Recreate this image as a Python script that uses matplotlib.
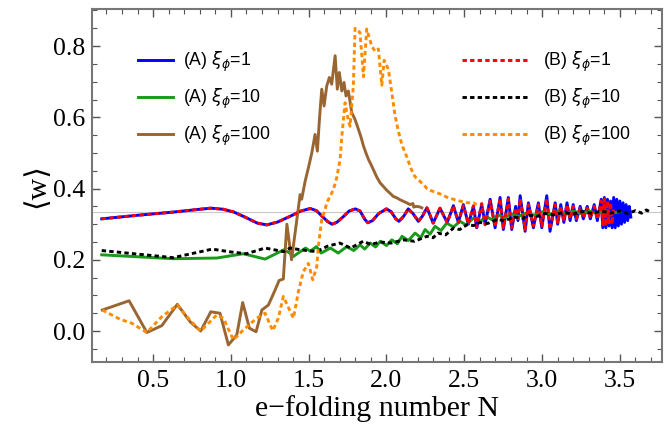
import matplotlib
matplotlib.use("Agg")
import matplotlib.pyplot as plt
from matplotlib.lines import Line2D
from matplotlib.ticker import MultipleLocator, FormatStrFormatter

# ---------------- data ----------------
a1_N = [0.17, 0.40, 0.63, 0.78, 0.87, 0.95, 1.02, 1.10, 1.17, 1.23, 1.30, 1.38, 1.45, 1.51, 1.55,
        1.58, 1.62, 1.65, 1.68, 1.72, 1.76, 1.80, 1.83, 1.86, 1.88, 1.91, 1.95, 2.00, 2.03, 2.06,
        2.08, 2.11, 2.14, 2.17, 2.205, 2.23, 2.26, 2.28, 2.30, 2.32, 2.344, 2.37, 2.39, 2.41,
        2.43, 2.462, 2.494, 2.526, 2.559, 2.58, 2.612, 2.634,
        2.666, 2.698, 2.73, 2.751, 2.783, 2.805, 2.83, 2.845, 2.859, 2.891, 2.912, 2.944, 2.976,
        2.998, 3.03, 3.051, 3.084, 3.10, 3.12, 3.14, 3.16, 3.18, 3.20, 3.22, 3.245, 3.265, 3.29,
        3.31, 3.335, 3.355, 3.38, 3.39, 3.40, 3.41, 3.42, 3.43, 3.44, 3.45, 3.46, 3.47, 3.48, 3.49,
        3.50, 3.51, 3.52, 3.53, 3.54, 3.55, 3.56, 3.57]
a1_w = [0.315, 0.325, 0.334, 0.341, 0.345, 0.342, 0.334, 0.318, 0.303, 0.298, 0.306, 0.322, 0.337,
        0.344, 0.338, 0.325, 0.308, 0.300, 0.305, 0.320, 0.337, 0.343, 0.337, 0.314, 0.304, 0.310,
        0.330, 0.343, 0.335, 0.315, 0.308, 0.322, 0.343, 0.330, 0.308, 0.322, 0.346, 0.325, 0.303,
        0.322, 0.345, 0.322, 0.305, 0.328,
        0.352, 0.305, 0.355, 0.300, 0.350, 0.290, 0.355, 0.300,
        0.370, 0.290, 0.375, 0.285, 0.375, 0.285, 0.350, 0.310, 0.380, 0.280,
        0.360, 0.290, 0.360, 0.290, 0.380, 0.280, 0.360, 0.300, 0.355, 0.305, 0.360, 0.310, 0.355,
        0.310, 0.350, 0.315, 0.350, 0.315, 0.355, 0.310, 0.370, 0.290, 0.375, 0.290, 0.370, 0.295,
        0.365, 0.290, 0.375, 0.290, 0.370, 0.295, 0.365, 0.300, 0.360, 0.305, 0.355, 0.310, 0.350,
        0.320]

b1_N = a1_N[:46] + [2.494, 2.526, 2.559, 2.58, 2.612, 2.634,
        2.666, 2.698, 2.73, 2.751, 2.783, 2.805, 2.83, 2.845, 2.859, 2.891, 2.912, 2.944, 2.976,
        2.998, 3.03, 3.051, 3.084, 3.10, 3.12, 3.14, 3.16, 3.18, 3.20, 3.22, 3.245, 3.265, 3.29,
        3.31, 3.335, 3.355, 3.38, 3.39, 3.40, 3.41, 3.42, 3.43, 3.44, 3.45, 3.46]
b1_w = a1_w[:46] + [0.352, 0.302, 0.352,
        0.292, 0.358, 0.298, 0.365, 0.293, 0.372, 0.290, 0.370, 0.290, 0.345, 0.315, 0.372, 0.285,
        0.355, 0.295, 0.355, 0.295, 0.372, 0.285, 0.355, 0.305, 0.350, 0.310, 0.355, 0.315, 0.350,
        0.315, 0.345, 0.318, 0.345, 0.318, 0.350, 0.315, 0.365, 0.295, 0.370, 0.295, 0.365, 0.300,
        0.360, 0.300, 0.350]

a10_N = [0.17, 0.63, 0.91, 1.08, 1.22, 1.34, 1.38, 1.40, 1.48, 1.51, 1.55, 1.58, 1.64, 1.69, 1.745,
         1.79, 1.83, 1.86, 1.895, 1.93, 1.96, 2.00, 2.034, 2.07, 2.10, 2.14, 2.184, 2.22, 2.248,
         2.28, 2.312, 2.35, 2.387, 2.43, 2.473, 2.51, 2.559, 2.60, 2.64, 2.68, 2.72, 2.76, 2.80,
         2.85, 2.90, 2.95, 3.00, 3.05, 3.10, 3.15, 3.20, 3.25, 3.30, 3.35, 3.40, 3.45, 3.50]
a10_w = [0.214, 0.203, 0.205, 0.217, 0.202, 0.228, 0.219, 0.209, 0.233, 0.224, 0.237, 0.219, 0.233,
         0.219, 0.237, 0.226, 0.242, 0.230, 0.247, 0.236, 0.252, 0.240, 0.256, 0.245, 0.266, 0.254,
         0.275, 0.262, 0.285, 0.272, 0.294, 0.282, 0.303, 0.292, 0.308, 0.298, 0.317, 0.307, 0.322,
         0.312, 0.326, 0.318, 0.329, 0.322, 0.332, 0.325, 0.335, 0.328, 0.336, 0.329, 0.337, 0.330,
         0.337, 0.331, 0.336, 0.331, 0.335]

b10_N = [0.17, 0.63, 0.88, 1.00, 1.10, 1.22, 1.34, 1.38, 1.45, 1.55, 1.62, 1.70, 1.77, 1.85, 1.90,
         1.96, 2.03, 2.11, 2.18, 2.26, 2.30, 2.33, 2.38, 2.43, 2.47, 2.52, 2.56, 2.60, 2.65, 2.71,
         2.76, 2.82, 2.87, 2.92, 2.97, 3.02, 3.07, 3.14, 3.20, 3.26, 3.32, 3.38, 3.44, 3.50, 3.55,
         3.60, 3.64, 3.67, 3.70]
b10_w = [0.226, 0.206, 0.230, 0.222, 0.217, 0.233, 0.223, 0.233, 0.228, 0.223, 0.238, 0.247, 0.233,
         0.252, 0.243, 0.250, 0.247, 0.256, 0.252, 0.266, 0.262, 0.275, 0.270, 0.289, 0.285, 0.299,
         0.296, 0.305, 0.302, 0.313, 0.310, 0.320, 0.316, 0.325, 0.322, 0.330, 0.326, 0.333, 0.328,
         0.336, 0.330, 0.337, 0.331, 0.337, 0.330, 0.338, 0.331, 0.340, 0.333]

a100_N = [0.174, 0.346, 0.46, 0.556, 0.656, 0.738, 0.806, 0.871, 0.93, 0.984, 1.038, 1.076, 1.119,
          1.162, 1.199, 1.241, 1.284, 1.31, 1.337, 1.36, 1.39, 1.445, 1.455, 1.477, 1.498, 1.52,
          1.541, 1.556, 1.569, 1.584, 1.599, 1.616, 1.633, 1.648, 1.67, 1.684, 1.697, 1.713, 1.727,
          1.74, 1.755, 1.777, 1.798, 1.82, 1.836, 1.852, 1.868, 1.884, 1.90, 1.916, 1.938, 1.959,
          1.98, 2.00, 2.02, 2.044, 2.066, 2.09, 2.11, 2.13, 2.152, 2.17, 2.175, 2.19, 2.21, 2.227]
a100_w = [0.059, 0.085, -0.004, 0.015, 0.075, 0.026, 0.000, 0.054, 0.050, -0.039, -0.011, 0.080,
          0.008, -0.002, 0.059, 0.073, 0.115, 0.142, 0.146, 0.300, 0.200, 0.383, 0.370, 0.420,
          0.458, 0.500, 0.552, 0.505, 0.594, 0.679, 0.632, 0.688, 0.712, 0.693, 0.773, 0.679,
          0.726, 0.674, 0.698, 0.660, 0.674, 0.613, 0.594, 0.566, 0.545, 0.520, 0.500, 0.482,
          0.468, 0.453, 0.432, 0.416, 0.406, 0.396, 0.388, 0.378, 0.374, 0.368, 0.364, 0.360,
          0.355, 0.358, 0.348, 0.350, 0.349, 0.346]

b100_N = [0.174, 0.288, 0.363, 0.46, 0.556, 0.656, 0.738, 0.806, 0.909, 0.952, 1.016, 1.08, 1.166,
          1.22, 1.269, 1.305, 1.337, 1.402, 1.434, 1.466, 1.498, 1.526, 1.552, 1.562, 1.584, 1.605,
          1.616, 1.659, 1.68, 1.702, 1.713, 1.734, 1.755, 1.766, 1.787, 1.798, 1.83, 1.852, 1.873,
          1.905, 1.927, 1.948, 1.97, 1.985, 2.012, 2.034, 2.055, 2.077, 2.098, 2.115, 2.13, 2.15,
          2.173, 2.19, 2.216, 2.24, 2.26, 2.28, 2.30, 2.344, 2.387, 2.43, 2.47, 2.52, 2.559, 2.58]
b100_w = [0.059, 0.033, 0.022, -0.004, 0.040, 0.073, 0.030, 0.000, 0.045, 0.036, -0.025, 0.003,
          0.036, 0.050, 0.001, 0.036, 0.097, 0.036, 0.111, 0.167, 0.190, 0.144, 0.181, 0.237,
          0.313, 0.340, 0.360, 0.397, 0.430, 0.482, 0.547, 0.641, 0.590, 0.575, 0.688, 0.850,
          0.838, 0.714, 0.848, 0.800, 0.785, 0.792, 0.690, 0.760, 0.735, 0.670, 0.605, 0.560,
          0.525, 0.505, 0.490, 0.465, 0.440, 0.430, 0.420, 0.410, 0.400, 0.395, 0.392, 0.385,
          0.376, 0.370, 0.365, 0.360, 0.360, 0.355]

ref_w = 1.0 / 3.0
labels_A = ["(A) $\\xi_{\\phi}$=1", "(A) $\\xi_{\\phi}$=10", "(A) $\\xi_{\\phi}$=100"]
labels_B = ["(B) $\\xi_{\\phi}$=1", "(B) $\\xi_{\\phi}$=10", "(B) $\\xi_{\\phi}$=100"]

# ---------------- style ----------------
BLUE = "#0000ff"
RED = "#ff0000"
GREEN = "#1a9a1a"
BLACK = "#000000"
BROWN = "#996633"
ORANGE = "#ff8c00"
LW = 2.1
DOT = (0, (1.5, 1.1))

fig = plt.figure(figsize=(6.72, 4.32), dpi=100)
ax = fig.add_axes([0.137, 0.162, 0.848, 0.817])

ax.axhline(ref_w, color="#c8c8c8", lw=0.8, zorder=1)

ax.plot(a1_N, a1_w, color=BLUE, lw=LW, zorder=3)
ax.plot(a10_N, a10_w, color=GREEN, lw=LW, zorder=3)
ax.plot(a100_N, a100_w, color=BROWN, lw=LW, zorder=3)
ax.plot(b1_N, b1_w, color=RED, lw=LW, ls=DOT, zorder=4)
ax.plot(b10_N, b10_w, color=BLACK, lw=LW, ls=DOT, zorder=4)
ax.plot(b100_N, b100_w, color=ORANGE, lw=LW, ls=DOT, zorder=4)

ax.set_xlim(0.108, 3.77)
ax.set_ylim(-0.087, 0.904)
ax.xaxis.set_major_locator(MultipleLocator(0.5))
ax.xaxis.set_minor_locator(MultipleLocator(0.1))
ax.yaxis.set_major_locator(MultipleLocator(0.2))
ax.yaxis.set_minor_locator(MultipleLocator(0.05))
ax.tick_params(which="both", direction="in", top=True, right=True, color="#555555")
ax.tick_params(which="major", length=6, width=1.0)
ax.tick_params(which="minor", length=3.5, width=0.8)
for sp in ax.spines.values():
    sp.set_color("#777777")
    sp.set_linewidth(1.5)

ax.xaxis.set_major_formatter(FormatStrFormatter("%.1f"))
ax.yaxis.set_major_formatter(FormatStrFormatter("%.1f"))
for lab in ax.get_xticklabels() + ax.get_yticklabels():
    lab.set_fontfamily("Liberation Serif")
    lab.set_fontsize(18.5)
ax.tick_params(axis="x", pad=6)
ax.tick_params(axis="y", pad=5)

ax.set_xlabel("e\u2212folding number N", family=["Liberation Serif", "DejaVu Serif"],
              fontsize=21.5, labelpad=2)
ax.set_ylabel("\u27e8w\u27e9", family=["Liberation Serif", "DejaVu Serif"], fontsize=21.5,
              labelpad=2)

hA = [Line2D([], [], color=BLUE, lw=LW), Line2D([], [], color=GREEN, lw=LW),
      Line2D([], [], color=BROWN, lw=LW)]
hB = [Line2D([], [], color=RED, lw=LW, ls=DOT), Line2D([], [], color=BLACK, lw=LW, ls=DOT),
      Line2D([], [], color=ORANGE, lw=LW, ls=DOT)]
legprops = dict(family="Liberation Sans", size=12.7)
legA = ax.legend(hA, labels_A, loc="upper left", bbox_to_anchor=(0.080, 0.885), frameon=False,
                 prop=legprops, handlelength=2.0, handletextpad=0.55, labelspacing=0.74,
                 borderpad=0, borderaxespad=0)
ax.add_artist(legA)
ax.legend(hB, labels_B, loc="upper left", bbox_to_anchor=(0.649, 0.885), frameon=False,
          prop=legprops, handlelength=3.85, handletextpad=0.75, labelspacing=0.74,
          borderpad=0, borderaxespad=0)

fig.savefig("out.png", dpi=100)
